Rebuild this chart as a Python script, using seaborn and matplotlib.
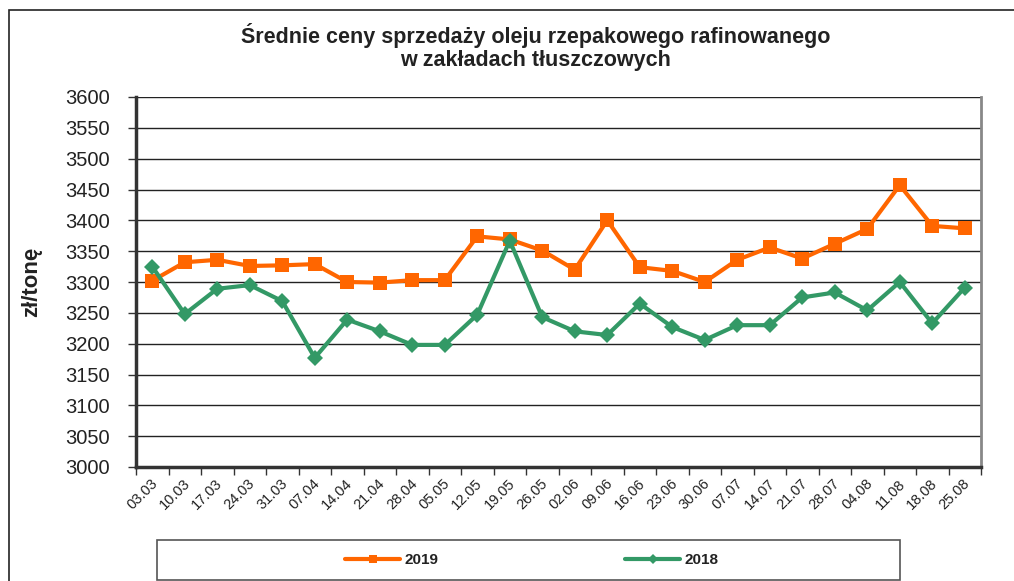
import numpy as np
import pandas as pd
import seaborn as sns
import matplotlib.pyplot as plt
from matplotlib.patches import Rectangle
from matplotlib.transforms import ScaledTranslation

sns.set_theme(style="white")
plt.rcParams['font.family'] = ['Liberation Sans', 'DejaVu Sans']

dates = ["03.03", "10.03", "17.03", "24.03", "31.03", "07.04", "14.04", "21.04", "28.04",
         "05.05", "12.05", "19.05", "26.05", "02.06", "09.06", "16.06", "23.06", "30.06",
         "07.07", "14.07", "21.07", "28.07", "04.08", "11.08", "18.08", "25.08"]
prices_2019 = [3302, 3332, 3336, 3326, 3327, 3329, 3300, 3299, 3303, 3303, 3374, 3369, 3351,
               3320, 3400, 3324, 3318, 3300, 3336, 3356, 3338, 3362, 3386, 3457, 3391, 3387]
prices_2018 = [3325, 3248, 3289, 3295, 3269, 3177, 3239, 3220, 3198, 3198, 3247, 3367, 3243,
               3220, 3214, 3265, 3227, 3206, 3230, 3230, 3275, 3283, 3254, 3300, 3233, 3291]

title = "Średnie ceny sprzedaży oleju rzepakowego rafinowanego\nw zakładach tłuszczowych"
ylabel = "zł/tonę"

df = pd.DataFrame({"idx": np.arange(len(dates)), "2019": prices_2019, "2018": prices_2018})

W, H = 1014, 581
fig = plt.figure(figsize=(W / 100, H / 100), dpi=100)
ax = fig.add_axes([136 / W, 1 - 467 / H, (981 - 136) / W, (467 - 97) / H])

orange = "#FF6600"
green = "#339966"

sns.lineplot(data=df, x="idx", y="2019", ax=ax, color=orange, linewidth=3,
             marker="s", markersize=10, markeredgewidth=0, label="2019", sort=False)
sns.lineplot(data=df, x="idx", y="2018", ax=ax, color=green, linewidth=3,
             marker="D", markersize=8.5, markeredgewidth=0, label="2018", sort=False)

ax.set_xlim(-0.5, len(dates) - 0.5)
ax.set_ylim(3000, 3600)
ax.set_yticks(np.arange(3000, 3601, 50))
ax.yaxis.grid(True, color="#222222", linewidth=1)
ax.set_axisbelow(True)

# category labels centered, tick marks between categories
ax.set_xticks(np.arange(len(dates)))
ax.set_xticklabels(dates, rotation=45, ha="right", va="top", fontsize=10.5, color="#222222")
ax.tick_params(axis="x", which="major", length=0, pad=7)
ax.set_xticks(np.arange(len(dates) + 1) - 0.5, minor=True)
ax.tick_params(axis="x", which="minor", length=6, width=1, color="#333333", direction="out", bottom=True)
offset = ScaledTranslation(8 / 100, 0, fig.dpi_scale_trans)
for lbl in ax.get_xticklabels():
    lbl.set_transform(lbl.get_transform() + offset)

ax.tick_params(axis="y", length=6, width=1, color="#333333", direction="out", left=True,
               labelsize=14.5, pad=13)
for lbl in ax.get_yticklabels():
    lbl.set_color("#222222")

ax.set_xlabel("")
ax.set_ylabel("")
for side in ["left", "bottom"]:
    ax.spines[side].set_color("#333333")
    ax.spines[side].set_linewidth(2.5)
ax.spines["right"].set_color("#888888")
ax.spines["right"].set_linewidth(2)
ax.spines["top"].set_visible(False)

ax.get_legend().remove()

fig.text(536 / W, 1 - 47 / H, title, ha="center", va="center", fontsize=15.5,
         fontweight="bold", color="#222222", linespacing=1.1)
fig.text(32 / W, 1 - 282 / H, ylabel, ha="center", va="center", rotation=90,
         fontsize=16, fontweight="bold", color="#222222")

# outer frame and legend box
fig.patches.append(Rectangle((9 / W, -0.05), 1.1, 1 - 10 / H + 0.05, transform=fig.transFigure,
                             fill=False, edgecolor="#222222", linewidth=1.2))
fig.patches.append(Rectangle((157 / W, 1 - 580 / H), (900 - 157) / W, 40 / H,
                             transform=fig.transFigure, fill=False,
                             edgecolor="#555555", linewidth=1.2))

handles, labels = ax.get_legend_handles_labels()
leg = fig.legend(handles, labels, loc="center", bbox_to_anchor=(532 / W, 1 - 560 / H),
                 ncol=2, frameon=False, handlelength=3.6, handletextpad=0.3,
                 columnspacing=12.2, markerscale=0.6,
                 prop={"weight": "bold", "size": 11})
for t in leg.get_texts():
    t.set_color("#222222")

fig.savefig("out.png", dpi=100)
